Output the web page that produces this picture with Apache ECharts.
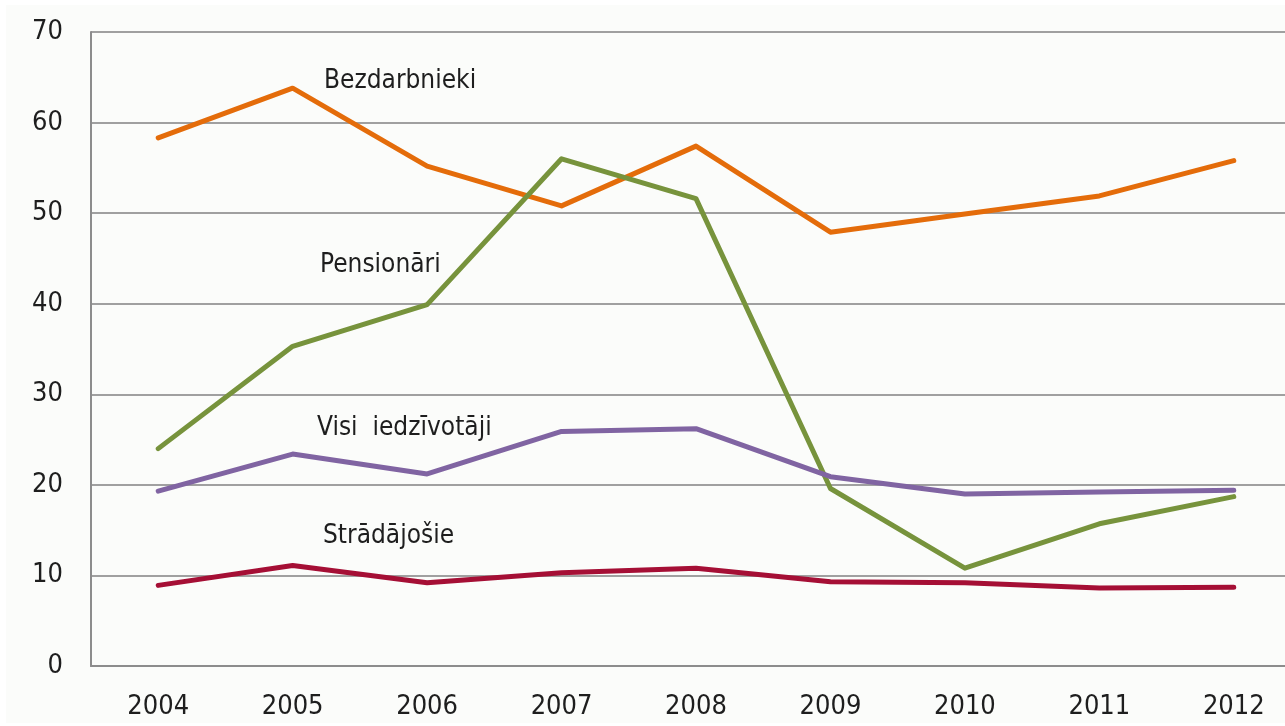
<!DOCTYPE html>
<html>
<head>
<meta charset="utf-8">
<script src="https://cdn.jsdelivr.net/npm/echarts@6/dist/echarts.min.js"></script>
<style>
  html, body { margin: 0; padding: 0; background: #ffffff; overflow: hidden; }
  /* the plot runs past the right edge of the window, as in the original */
  #chart { position: absolute; left: 6px; top: 5px; width: 1295px; height: 718px; }
</style>
</head>
<body>
<div id="chart"></div>
<script>
// years on the x axis
const years = ['2004', '2005', '2006', '2007', '2008', '2009', '2010', '2011', '2012']

// values
const bezdarbnieki = [58.3, 63.8, 55.2, 50.8, 57.4, 47.9, 49.9, 51.9, 55.8]
const pensionari = [24.0, 35.3, 39.9, 56.0, 51.6, 19.6, 10.8, 15.7, 18.7]
const visiIedzivotaji = [19.3, 23.4, 21.2, 25.9, 26.2, 20.9, 19.0, 19.2, 19.4]
const stradajosie = [8.9, 11.1, 9.2, 10.3, 10.8, 9.3, 9.2, 8.6, 8.7]

const yTicks = [0, 10, 20, 30, 40, 50, 60, 70]

const font = "'DejaVu Sans Condensed', 'Liberation Sans', sans-serif"
const textColor = '#1e1e1e'

const chart = echarts.init(document.getElementById('chart'), null, { renderer: 'canvas' })

function line(name, data, color) {
  return {
    name,
    type: 'line',
    data,
    symbol: 'none',
    lineStyle: { color, width: 5, cap: 'round', join: 'round' },
    itemStyle: { color },
    z: 3
  }
}

// series names drawn next to the lines
function tag(text, left, top) {
  return {
    type: 'text',
    left,
    top,
    style: { text, font: '26px ' + font, fill: textColor }
  }
}

chart.setOption({
  backgroundColor: '#fbfcfa',
  animation: false,
  grid: { left: 85, right: 0, top: 27, bottom: 57, containLabel: false },
  xAxis: {
    type: 'category',
    data: years,
    boundaryGap: true,
    axisLine: { show: true, lineStyle: { color: '#8c8c8c', width: 2 } },
    axisTick: { show: false },
    axisLabel: { color: textColor, fontSize: 27, fontFamily: font, margin: 27 }
  },
  yAxis: {
    type: 'value',
    min: yTicks[0],
    max: yTicks[yTicks.length - 1],
    interval: 10,
    axisLine: { show: true, lineStyle: { color: '#8c8c8c', width: 2 } },
    axisTick: { show: false },
    splitLine: { show: true, lineStyle: { color: '#a0a0a0', width: 2 } },
    axisLabel: { color: textColor, fontSize: 27, fontFamily: font, margin: 28 }
  },
  series: [
    line('Bezdarbnieki', bezdarbnieki, '#e46c0a'),
    line('Pensionāri', pensionari, '#77933c'),
    line('Visi  iedzīvotāji', visiIedzivotaji, '#8064a2'),
    line('Strādājošie', stradajosie, '#a50f35')
  ],
  graphic: [
    tag('Bezdarbnieki', 318, 63),
    tag('Pensionāri', 314, 247),
    tag('Visi  iedzīvotāji', 311, 410),
    tag('Strādājošie', 317, 518)
  ]
})
</script>
</body>
</html>
